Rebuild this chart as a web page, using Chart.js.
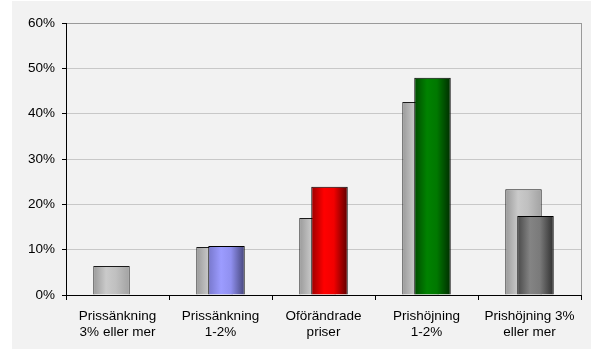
<!DOCTYPE html>
<html>
<head>
<meta charset="utf-8">
<script src="https://cdn.jsdelivr.net/npm/chart.js@4"></script>
<style>
  html, body { margin: 0; padding: 0; background: #ffffff; }
  #wrap { width: 591px; height: 350px; }
</style>
</head>
<body>
<div id="wrap"><canvas id="c" width="591" height="350"></canvas></div>
<script>
// Categories (two-line axis labels)
const categories = [
  ['Prissänkning', '3% eller mer'],
  ['Prissänkning', '1-2%'],
  ['Oförändrade', 'priser'],
  ['Prishöjning', '1-2%'],
  ['Prishöjning 3%', 'eller mer']
];

// Share of responses, percent
const previousValues = [6.4, 10.6, 17.0, 42.6, 23.3];
const currentValues  = [null, 10.8, 23.9, 47.9, 17.4];

// Value axis
const yMin = 0;
const yMax = 60;
const yStep = 10;

// Cylinder-style shading: edge, highlight, body, shadow
const previousShades = ['#9a9a9a', '#cacaca', '#c0c0c0', '#a2a2a2'];
const currentShades = [
  ['#9a9a9a', '#cacaca', '#c0c0c0', '#a2a2a2'],
  ['#7777cc', '#9c9cff', '#9090f0', '#45457a'],
  ['#9a0000', '#ff0000', '#f20000', '#5c0000'],
  ['#004a00', '#008200', '#007800', '#002c00'],
  ['#484848', '#848484', '#7a7a7a', '#2e2e2e']
];

const FONT = { family: "'Liberation Sans', Arial, sans-serif", size: 13.5 };

const pageBackground = {
  id: 'pageBackground',
  beforeDraw(chart) {
    const { ctx, width, height } = chart;
    ctx.save();
    ctx.fillStyle = '#ffffff';
    ctx.fillRect(0, 0, width, height);
    ctx.fillStyle = '#f2f2f2';
    ctx.fillRect(12, 1, width - 12, height - 2);
    ctx.restore();
  }
};

const cylinderShade = {
  id: 'cylinderShade',
  beforeDatasetsDraw(chart) {
    const ctx = chart.ctx;
    chart.data.datasets.forEach((ds, i) => {
      if (!ds.shades) return;
      const meta = chart.getDatasetMeta(i);
      meta.data.forEach((bar, j) => {
        const stops = Array.isArray(ds.shades[0]) ? ds.shades[j] : ds.shades;
        if (!stops || bar.width == null || isNaN(bar.x)) return;
        const l = bar.x - bar.width / 2;
        const r = bar.x + bar.width / 2;
        const g = ctx.createLinearGradient(l, 0, r, 0);
        g.addColorStop(0, stops[0]);
        g.addColorStop(0.35, stops[1]);
        g.addColorStop(0.62, stops[2]);
        g.addColorStop(1, stops[3]);
        bar.options = Object.assign({}, bar.options, { backgroundColor: g });
      });
    });
  }
};

const rightFrame = {
  id: 'rightFrame',
  afterDraw(chart) {
    const { ctx, chartArea } = chart;
    ctx.save();
    ctx.strokeStyle = '#9a9a9a';
    ctx.lineWidth = 1;
    const x = Math.round(chartArea.right) + 0.5;
    ctx.beginPath();
    ctx.moveTo(x, chartArea.top);
    ctx.lineTo(x, chartArea.bottom);
    ctx.stroke();
    ctx.restore();
  }
};

// Two overlapping slots per category: the earlier series sits in the left
// slot, the current series in the right slot and is painted over it.
const barShape = { categoryPercentage: 0.233, barPercentage: 3.04, borderWidth: 1, borderSkipped: 'bottom' };

new Chart(document.getElementById('c'), {
  type: 'bar',
  data: {
    labels: categories,
    datasets: [
      Object.assign({ label: '', data: categories.map(() => null), stack: 'left' }, barShape),
      Object.assign({ label: 'Nu', data: currentValues, stack: 'right', borderColor: '#000000', backgroundColor: '#9999ff', shades: currentShades }, barShape),
      Object.assign({ label: 'Tidigare', data: previousValues, stack: 'left', borderColor: '#1a1a1a', backgroundColor: '#c0c0c0', shades: previousShades }, barShape)
    ]
  },
  options: {
    responsive: false,
    devicePixelRatio: 1,
    animation: false,
    layout: { padding: { left: 12, top: 23, right: 10, bottom: 0 } },
    plugins: {
      legend: { display: false },
      tooltip: { enabled: false },
      title: { display: false }
    },
    scales: {
      x: {
        type: 'category',
        offset: true,
        grid: { offset: true, drawOnChartArea: false, drawTicks: true, tickLength: 5, tickColor: '#000000' },
        border: { color: '#000000', width: 1 },
        ticks: { font: FONT, color: '#000000', padding: 8, maxRotation: 0, autoSkip: false },
        afterFit(scale) { scale.height = 55; }
      },
      y: {
        min: yMin,
        max: yMax,
        ticks: {
          stepSize: yStep,
          font: FONT,
          color: '#000000',
          padding: 7,
          callback: v => v + '%'
        },
        grid: {
          color: c => (c.tick && c.tick.value === yMax) ? '#9a9a9a' : '#c8c8c8',
          lineWidth: 1,
          drawTicks: true,
          tickLength: 4,
          tickColor: '#000000'
        },
        border: { color: '#000000', width: 1 },
        afterFit(scale) { scale.width = 54; }
      }
    }
  },
  plugins: [pageBackground, cylinderShade, rightFrame]
});
</script>
</body>
</html>
